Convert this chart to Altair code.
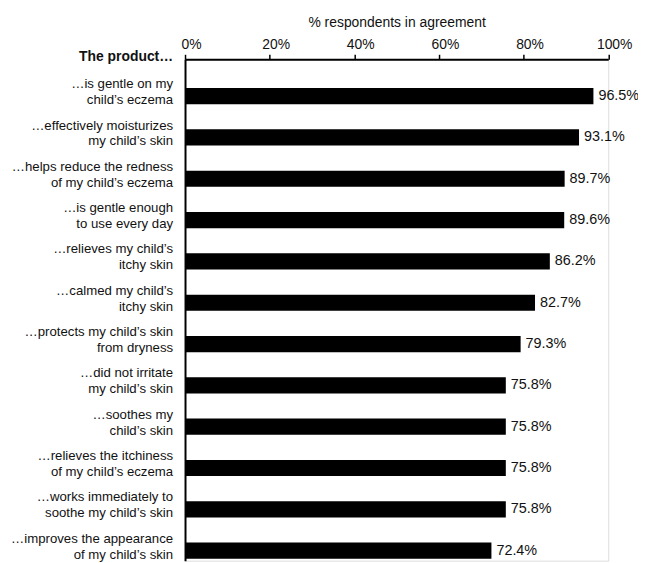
import altair as alt
import pandas as pd

labels = [
    "…is gentle on my\nchild’s eczema",
    "…effectively moisturizes\nmy child’s skin",
    "…helps reduce the redness\nof my child’s eczema",
    "…is gentle enough\nto use every day",
    "…relieves my child’s\nitchy skin",
    "…calmed my child’s\nitchy skin",
    "…protects my child’s skin\nfrom dryness",
    "…did not irritate\nmy child’s skin",
    "…soothes my\nchild’s skin",
    "…relieves the itchiness\nof my child’s eczema",
    "…works immediately to\nsoothe my child’s skin",
    "…improves the appearance\nof my child’s skin",
]
values = [96.5, 93.1, 89.7, 89.6, 86.2, 82.7, 79.3, 75.8, 75.8, 75.8, 75.8, 72.4]
x_ticks = [0, 20, 40, 60, 80, 100]
header = "The product…"
x_title = "% respondents in agreement"

df = pd.DataFrame({"label": labels, "value": values})
df["value_text"] = [f"{v:.1f}%" for v in values]

FONT = "Liberation Sans"
INK = "#111111"

y_enc = alt.Y(
    "label:N",
    sort=labels,
    scale=alt.Scale(paddingInner=0.6086, paddingOuter=0.3718, align=0.937),
    axis=alt.Axis(labels=False, ticks=False, title=None, domain=True,
                  domainWidth=2, domainColor="black", grid=False),
)

x_enc = alt.X(
    "value:Q",
    scale=alt.Scale(domain=[0, 100], nice=False, zero=True),
    axis=alt.Axis(
        orient="top", values=x_ticks, labelExpr="datum.value + '%'",
        title=x_title, tickSize=5, tickWidth=1.5, tickColor="black",
        domainWidth=2, domainColor="black", labelOffset=6, labelPadding=3,
        labelFlush=False,
        labelFontSize=14, titleFontSize=14, titleFontWeight="normal",
        labelColor=INK, titleColor=INK, titlePadding=8, grid=False,
        labelFont=FONT, titleFont=FONT,
    ),
)

base = alt.Chart(df).encode(y=y_enc)

bars = base.mark_bar(color="black").encode(x=x_enc)

value_text = base.mark_text(
    align="left", baseline="middle", dx=5, fontSize=14.5, font=FONT, color=INK
).encode(x="value:Q", text="value_text:N")

cat_text = base.mark_text(
    align="right", baseline="middle", dy=-12, fontSize=13.3, font=FONT,
    color=INK, lineBreak="\n", lineHeight=16
).encode(x=alt.value(-12), text="label:N")

hdr = alt.Chart(pd.DataFrame({"t": [header]})).mark_text(
    align="right", baseline="alphabetic", fontSize=14, fontWeight="bold",
    font=FONT, color=INK
).encode(x=alt.value(-12), y=alt.value(1.5), text="t:N")

chart = alt.layer(bars, value_text, cat_text, hdr).properties(
    width=426.5,
    height=505.3,
    autosize=alt.AutoSizeParams(type="none"),
    padding={"left": 178.4, "top": 49.5, "right": 30, "bottom": 0},
).configure_view(stroke=None).configure(font=FONT)

chart.save("out.html", embed_options={"renderer": "svg", "actions": False})
